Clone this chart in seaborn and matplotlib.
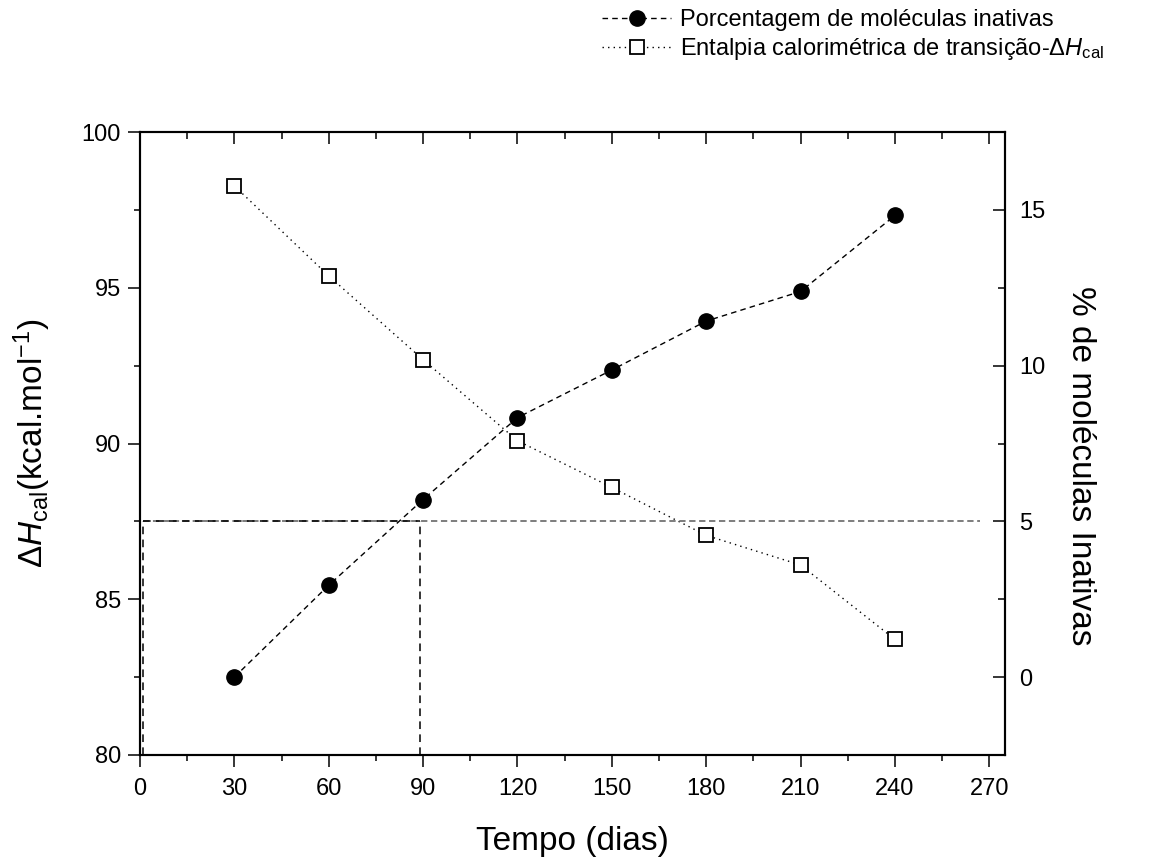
import matplotlib
matplotlib.use("Agg")
import matplotlib.pyplot as plt
from matplotlib.ticker import MultipleLocator
import seaborn as sns

# Tempo de armazenamento (dias)
dias = [30, 60, 90, 120, 150, 180, 210, 240]
# Porcentagem de moléculas inativas (eixo direito)
inativas_pct = [0.0, 2.95, 5.7, 8.33, 9.86, 11.43, 12.38, 14.82]
# Entalpia calorimétrica de transição, kcal/mol (eixo esquerdo)
entalpia_dh = [98.27, 95.38, 92.69, 90.09, 88.59, 87.05, 86.10, 83.71]

# Limite de 5 % de moléculas inativas e o tempo correspondente
limite_pct = 5
limite_dia = 89
inicio_dia = 1
fim_linha_dia = 267

x_ticks = list(range(0, 271, 30))
y_esq_lim = (80, 100)
y_dir_lim = (-2.5, 17.5)

sns.set_style("ticks")
plt.rcParams["font.family"] = ["Liberation Sans", "DejaVu Sans"]
plt.rcParams["mathtext.fontset"] = "custom"
plt.rcParams["mathtext.rm"] = "Liberation Sans"
plt.rcParams["mathtext.it"] = "Liberation Sans:italic"
plt.rcParams["mathtext.bf"] = "Liberation Sans:bold"
for key in ("text.color", "axes.labelcolor", "xtick.color", "ytick.color",
            "axes.edgecolor"):
    plt.rcParams[key] = "black"

fig = plt.figure(figsize=(11.49, 8.57), dpi=100)
ax = fig.add_axes([0.12185, 0.11902, 0.75283, 0.72695])
ax2 = ax.twinx()

# Entalpia: quadrados abertos, linha pontilhada
sns.lineplot(x=dias, y=entalpia_dh, ax=ax, color="black", linestyle=(0, (1, 3)),
             linewidth=1.0, marker="s", markersize=9.5, markerfacecolor="white",
             markeredgecolor="black", markeredgewidth=1.3, legend=False, zorder=3)

# Moléculas inativas: círculos cheios, linha tracejada
sns.lineplot(x=dias, y=inativas_pct, ax=ax2, color="black", linestyle=(0, (4, 3)),
             linewidth=1.0, marker="o", markersize=11, markerfacecolor="black",
             markeredgecolor="black", markeredgewidth=1.0, legend=False, zorder=3)

# Linhas de referência do limite de 5 %
ax2.hlines(limite_pct, inicio_dia, fim_linha_dia, colors="0.45",
           linestyles=(0, (3.5, 2)), linewidth=1.3, zorder=2)
ax2.hlines([limite_pct, y_dir_lim[0]], inicio_dia, limite_dia, colors="black",
           linestyles=(0, (5, 3.5)), linewidth=1.1, zorder=2, clip_on=False)
ax2.vlines([inicio_dia, limite_dia], y_dir_lim[0], limite_pct, colors="black",
           linestyles=(0, (5, 3.5)), linewidth=1.1, zorder=2)

ax.set_xlim(0, 275)
ax.set_ylim(*y_esq_lim)
ax2.set_ylim(*y_dir_lim)

ax.set_xticks(x_ticks)
ax.xaxis.set_minor_locator(MultipleLocator(15))
ax.yaxis.set_major_locator(MultipleLocator(5))
ax.yaxis.set_minor_locator(MultipleLocator(2.5))
ax2.yaxis.set_major_locator(MultipleLocator(5))
ax2.yaxis.set_minor_locator(MultipleLocator(2.5))

ax.tick_params(axis="x", which="both", direction="out", bottom=True, top=False,
               labelsize=17, width=1.1, pad=8)
ax.tick_params(axis="y", which="both", direction="out", left=True, right=False,
               labelsize=17, width=1.1, pad=5)
ax.tick_params(which="major", length=8.6)
ax.tick_params(which="minor", length=4.5)

ax2.tick_params(axis="y", which="both", direction="in", right=True, left=False,
                labelsize=17, width=1.1, pad=10)
ax2.tick_params(axis="y", which="major", length=9)
ax2.tick_params(axis="y", which="minor", length=5)

# Marcas internas no eixo superior
ax2.xaxis.set_visible(True)
ax2.tick_params(axis="x", which="both", direction="in", top=True, bottom=False,
                labeltop=False, labelbottom=False, width=1.1)
ax2.tick_params(axis="x", which="major", length=8.6)
ax2.tick_params(axis="x", which="minor", length=5)

for a in (ax, ax2):
    for s in a.spines.values():
        s.set_linewidth(1.5)
        s.set_color("black")

ax.set_xlabel("Tempo (dias)", fontsize=24, labelpad=19)
ax.set_ylabel(r"$\Delta H_{\rm cal}$(kcal.mol$^{-1}$)", fontsize=24, labelpad=21)
ax2.set_ylabel("% de moléculas Inativas", fontsize=24, rotation=270)
ax2.yaxis.set_label_coords(1.087, 0.464)
ax2.yaxis.label.set_horizontalalignment("center")
ax2.yaxis.label.set_verticalalignment("center")

handles = [ax2.lines[0], ax.lines[0]]
labels = ["Porcentagem de moléculas inativas",
          r"Entalpia calorimétrica de transição-$\Delta H_{\rm cal}$"]
fig.legend(handles, labels, loc="upper left", bbox_to_anchor=(600 / 1149, 0.992),
           frameon=False, fontsize=17, handlelength=2.9, handletextpad=0.4,
           labelspacing=0.2, borderaxespad=0, borderpad=0.1)

fig.savefig("out.png", dpi=100)
